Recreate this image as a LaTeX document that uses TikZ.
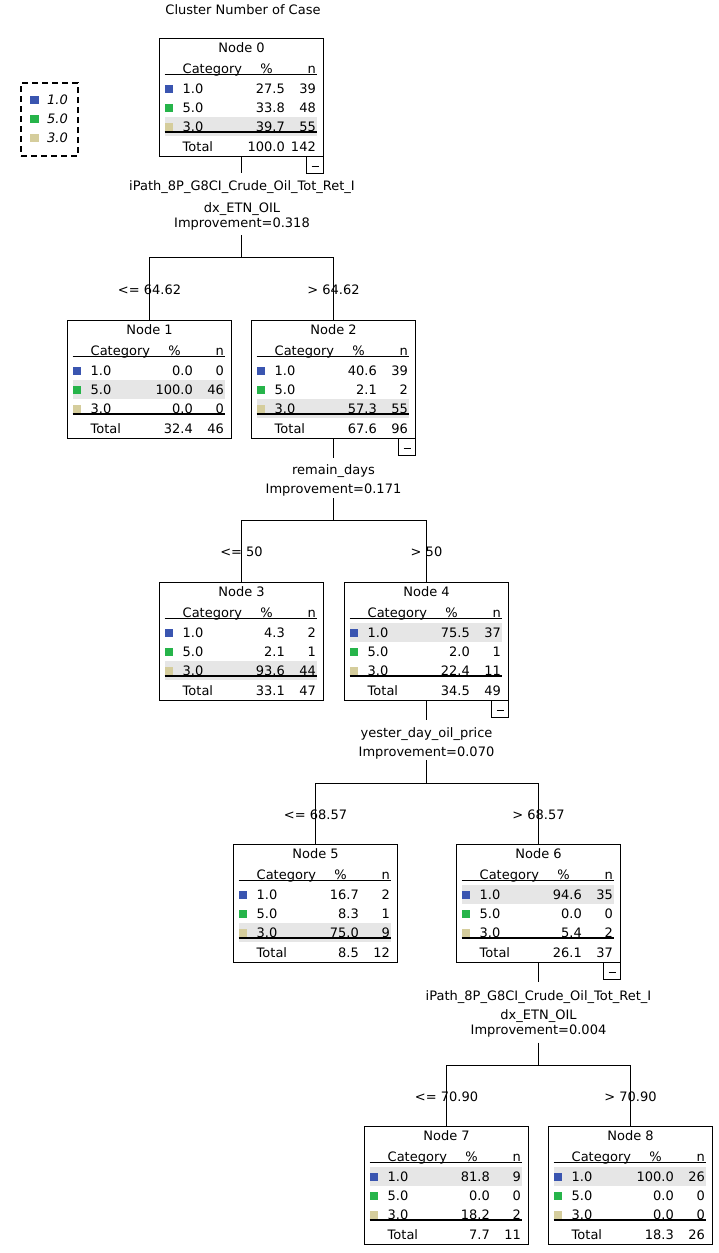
\documentclass[tikz,border=0pt]{standalone}
\usepackage{fontspec}
\setmainfont{DejaVu Sans}
\definecolor{cblue}{HTML}{3A55B0}
\definecolor{cgreen}{HTML}{26B44A}
\definecolor{ctan}{HTML}{D5CD9C}
\definecolor{hlgray}{HTML}{E6E6E6}
\tikzset{
  box/.style={draw, line width=1.3pt, minimum width=164pt, minimum height=118pt, inner sep=0pt, outer sep=0pt},
  txt/.style={inner sep=0pt, font=\fontsize{13}{15}\selectfont},
  lbl/.style={inner sep=0pt, font=\fontsize{13}{15}\selectfont, anchor=base},
  rule/.style={line width=1pt},
  thickrule/.style={line width=2pt},
  conn/.style={line width=1.2pt},
  minusbox/.style={draw, line width=1.1pt, minimum width=17pt, minimum height=17pt, inner sep=0pt, outer sep=0pt}
}
\newcommand\treenode[9]{%
 \begin{scope}[shift={(#2-82,#3)}]
  \fill[hlgray] (5,{21.5+19*#5}) rectangle (157,{40.5+19*#5});
  \node[box] (#1) at (82,59) {};
  \node[txt, anchor=base] (#1-title) at (82,14) {Node #4};
  \node[txt, anchor=base west] (#1-hc) at (23,34.5) {Category};
  \node[txt, anchor=base] (#1-hp) at (107,34.5) {\%};
  \node[txt, anchor=base east] (#1-hn) at (156.5,34.5) {n};
  \draw[rule] (5,36) -- (157,36);
  \foreach \p/\n [count=\i] in {#6} {
    \ifcase\i\or\def\cat{1.0}\def\col{cblue}\or\def\cat{5.0}\def\col{cgreen}\or\def\cat{3.0}\def\col{ctan}\fi
    \fill[fill=\col] (5,{31+19*\i-4}) rectangle (13.5,{31+19*\i+4});
    \node[txt, anchor=base west] (#1-c\i) at (23,{35.5+19*\i}) {\cat};
    \node[txt, anchor=base east] (#1-p\i) at (125.5,{35.5+19*\i}) {\p};
    \node[txt, anchor=base east] (#1-n\i) at (156.5,{35.5+19*\i}) {\n};
  }
  \draw[thickrule] (5,93) -- (157,93);
  \node[txt, anchor=base west] (#1-tl) at (23,112.5) {Total};
  \node[txt, anchor=base east] (#1-tp) at (125.5,112.5) {#7};
  \node[txt, anchor=base east] (#1-tn) at (156.5,112.5) {#8};
  \ifnum#9=1
    \node[minusbox] (#1-m) at (155.5,126.5) {};
    \draw[line width=1pt] ([xshift=-3.5pt,yshift=-1pt]#1-m.center) -- ([xshift=3.5pt,yshift=-1pt]#1-m.center);
  \fi
 \end{scope}}
\begin{document}
\begin{tikzpicture}[x=1pt,y=-1pt]
\useasboundingbox (0,0) rectangle (719,1253);

% title
\node[lbl] (title) at (243,14.5) {Cluster Number of Case};

% legend
\node[draw, dash pattern=on 6pt off 4pt, line width=1.3pt, minimum width=57pt, minimum height=73pt, inner sep=0pt, outer sep=0pt] (legend) at (49.5,119.5) {};
\fill[cblue] (30,96) rectangle (38.5,104);
\fill[cgreen] (30,115) rectangle (38.5,123);
\fill[ctan] (30,134) rectangle (38.5,142);
\node[txt, anchor=base west, font=\fontsize{13}{15}\selectfont\itshape] (lg1) at (47,104.5) {1.0};
\node[txt, anchor=base west, font=\fontsize{13}{15}\selectfont\itshape] (lg2) at (47,123.5) {5.0};
\node[txt, anchor=base west, font=\fontsize{13}{15}\selectfont\itshape] (lg3) at (47,142.5) {3.0};

% nodes
\treenode{n0}{241.5}{38.5}{0}{3}{27.5/39,33.8/48,39.7/55}{100.0}{142}{1}
\treenode{n1}{149.5}{320.5}{1}{2}{0.0/0,100.0/46,0.0/0}{32.4}{46}{0}
\treenode{n2}{333.5}{320.5}{2}{3}{40.6/39,2.1/2,57.3/55}{67.6}{96}{1}
\treenode{n3}{241.5}{582.5}{3}{3}{4.3/2,2.1/1,93.6/44}{33.1}{47}{0}
\treenode{n4}{426.5}{582.5}{4}{1}{75.5/37,2.0/1,22.4/11}{34.5}{49}{1}
\treenode{n5}{315.5}{844.5}{5}{3}{16.7/2,8.3/1,75.0/9}{8.5}{12}{0}
\treenode{n6}{538.5}{844.5}{6}{1}{94.6/35,0.0/0,5.4/2}{26.1}{37}{1}
\treenode{n7}{446.5}{1126.5}{7}{1}{81.8/9,0.0/0,18.2/2}{7.7}{11}{0}
\treenode{n8}{630.5}{1126.5}{8}{1}{100.0/26,0.0/0,0.0/0}{18.3}{26}{0}

% split 0
\coordinate (a0) at (241.5,173);
\node[lbl] (s0v) at (242,190.5) {iPath\_8P\_G8CI\_Crude\_Oil\_Tot\_Ret\_I};
\node[lbl] (s0w) at (242,212) {dx\_ETN\_OIL};
\node[lbl] (s0i) at (242,227.5) {Improvement=0.318};
\coordinate (t0) at (241.5,235);
\coordinate (b0) at (241.5,257.5);
\draw[conn] (n0.south) -- (a0);
\draw[conn] (t0) -- (b0);
\draw[conn] (n1.north) |- (b0) -| (n2.north);
\node[lbl] (e1) at (149.5,294.5) {<= 64.62};
\node[lbl] (e2) at (333.5,294.5) {> 64.62};

% split 2
\coordinate (a2) at (333.5,458);
\node[lbl] (s2v) at (333.5,474.5) {remain\_days};
\node[lbl] (s2i) at (333.5,493.5) {Improvement=0.171};
\coordinate (t2) at (333.5,498);
\coordinate (b2) at (333.5,520.5);
\draw[conn] (n2.south) -- (a2);
\draw[conn] (t2) -- (b2);
\draw[conn] (n3.north) |- (b2) -| (n4.north);
\node[lbl] (e3) at (241.5,556.8) {<= 50};
\node[lbl] (e4) at (426.5,556.8) {> 50};

% split 4
\coordinate (a4) at (426.5,720);
\node[lbl] (s4v) at (426.5,737.2) {yester\_day\_oil\_price};
\node[lbl] (s4i) at (426.5,756.8) {Improvement=0.070};
\coordinate (t4) at (426.5,760);
\coordinate (b4) at (426.5,783.5);
\draw[conn] (n4.south) -- (a4);
\draw[conn] (t4) -- (b4);
\draw[conn] (n5.north) |- (b4) -| (n6.north);
\node[lbl] (e5) at (315.5,819.5) {<= 68.57};
\node[lbl] (e6) at (538.5,819.5) {> 68.57};

% split 6
\coordinate (a6) at (538.5,982);
\node[lbl] (s6v) at (538.5,1000.2) {iPath\_8P\_G8CI\_Crude\_Oil\_Tot\_Ret\_I};
\node[lbl] (s6w) at (538.5,1019.5) {dx\_ETN\_OIL};
\node[lbl] (s6i) at (538.5,1034.5) {Improvement=0.004};
\coordinate (t6) at (538.5,1042.5);
\coordinate (b6) at (538.5,1065.5);
\draw[conn] (n6.south) -- (a6);
\draw[conn] (t6) -- (b6);
\draw[conn] (n7.north) |- (b6) -| (n8.north);
\node[lbl] (e7) at (446.5,1101.2) {<= 70.90};
\node[lbl] (e8) at (630.5,1101.2) {> 70.90};
\end{tikzpicture}
\end{document}
